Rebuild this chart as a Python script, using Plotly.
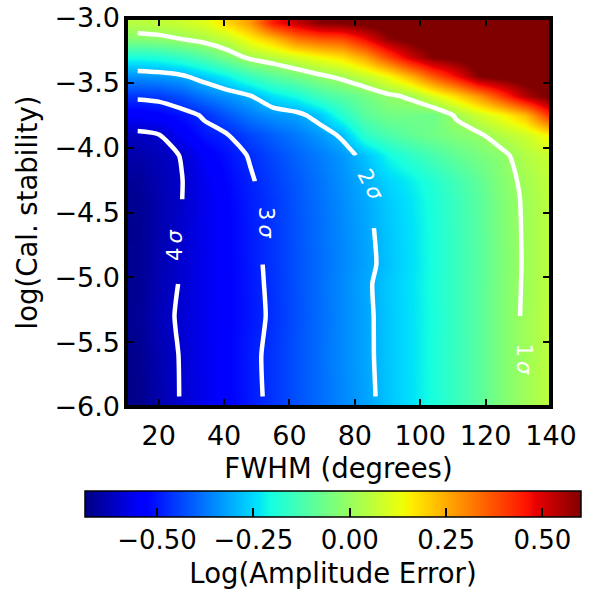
import numpy as np
import plotly.graph_objects as go

# ---------------- data ----------------
fwhm = [13.5, 20, 27, 34, 41, 48, 55, 62, 69, 76, 83, 90, 97, 104, 111, 118, 125, 132, 139]
log_cal = [-5.92, -5.60, -5.30, -5.05, -4.90, -4.62, -4.40, -4.26, -4.06,
           -3.90, -3.75, -3.60, -3.45, -3.30, -3.16, -3.04]

# Log(Amplitude Error), one row per log_cal value (bottom -> top), one column per fwhm value
log_amp_err = [
    [-0.676, -0.636, -0.598, -0.564, -0.530, -0.496, -0.461, -0.425, -0.390, -0.355, -0.322, -0.278, -0.242, -0.198, -0.150, -0.100, -0.039, 0.009, 0.056],
    [-0.672, -0.634, -0.597, -0.563, -0.528, -0.493, -0.460, -0.424, -0.389, -0.353, -0.318, -0.276, -0.241, -0.197, -0.150, -0.100, -0.039, 0.009, 0.056],
    [-0.665, -0.622, -0.593, -0.562, -0.530, -0.500, -0.466, -0.428, -0.390, -0.354, -0.318, -0.275, -0.241, -0.198, -0.151, -0.100, -0.038, 0.010, 0.057],
    [-0.668, -0.630, -0.597, -0.563, -0.531, -0.498, -0.463, -0.426, -0.389, -0.352, -0.315, -0.273, -0.240, -0.197, -0.150, -0.101, -0.040, 0.008, 0.055],
    [-0.668, -0.632, -0.598, -0.563, -0.530, -0.496, -0.461, -0.425, -0.390, -0.356, -0.322, -0.281, -0.243, -0.199, -0.151, -0.102, -0.041, 0.007, 0.055],
    [-0.669, -0.634, -0.600, -0.565, -0.529, -0.494, -0.460, -0.423, -0.388, -0.353, -0.318, -0.276, -0.241, -0.197, -0.150, -0.101, -0.040, 0.008, 0.055],
    [-0.668, -0.635, -0.603, -0.565, -0.527, -0.490, -0.457, -0.420, -0.385, -0.349, -0.313, -0.270, -0.236, -0.193, -0.147, -0.098, -0.038, 0.010, 0.056],
    [-0.660, -0.630, -0.604, -0.562, -0.520, -0.484, -0.450, -0.415, -0.380, -0.345, -0.305, -0.258, -0.224, -0.182, -0.136, -0.089, -0.030, 0.015, 0.062],
    [-0.640, -0.622, -0.5995, -0.545, -0.505, -0.472, -0.435, -0.400, -0.370, -0.335, -0.280, -0.210, -0.165, -0.125, -0.085, -0.050, -0.020, 0.040, 0.075],
    [-0.615, -0.603, -0.550, -0.500, -0.479, -0.440, -0.405, -0.375, -0.335, -0.290, -0.170, -0.120, -0.085, -0.060, -0.035, -0.010, 0.044, 0.080, 0.150],
    [-0.545, -0.533, -0.505, -0.468, -0.416, -0.371, -0.340, -0.322, -0.275, -0.180, -0.098, -0.060, -0.060, -0.067, 0.010, 0.083, 0.140, 0.225, 0.410],
    [-0.461, -0.453, -0.422, -0.374, -0.339, -0.303, -0.241, -0.204, -0.142, -0.100, -0.060, -0.015, 0.015, 0.100, 0.183, 0.280, 0.407, 0.540, 0.620],
    [-0.341, -0.333, -0.312, -0.268, -0.216, -0.150, -0.100, -0.060, -0.017, 0.020, 0.070, 0.138, 0.244, 0.364, 0.470, 0.600, 0.630, 0.640, 0.650],
    [-0.197, -0.187, -0.156, -0.108, -0.045, 0.020, 0.053, 0.096, 0.140, 0.177, 0.260, 0.390, 0.515, 0.600, 0.620, 0.640, 0.650, 0.650, 0.650],
    [-0.030, -0.020, 0.002, 0.030, 0.070, 0.150, 0.220, 0.320, 0.360, 0.380, 0.470, 0.580, 0.620, 0.640, 0.650, 0.650, 0.650, 0.650, 0.650],
    [0.050, 0.060, 0.080, 0.110, 0.190, 0.270, 0.450, 0.520, 0.590, 0.600, 0.620, 0.640, 0.650, 0.650, 0.650, 0.650, 0.650, 0.650, 0.650],
]

# significance contours (level of Log(Amplitude Error) for n sigma)
sigma_labels = ["1", "2", "3", "4"]
sigma_levels = [0.0, -0.301, -0.477, -0.602]

color_min, color_max = -0.687, 0.60
cbar_ticks = [-0.50, -0.25, 0.00, 0.25, 0.50]
x_ticks = [20, 40, 60, 80, 100, 120, 140]
y_ticks = [-6.0, -5.5, -5.0, -4.5, -4.0, -3.5, -3.0]

# ---------------- style ----------------
# matplotlib "jet" colormap
jet_r = [(0, 0), (0.35, 0), (0.66, 1), (0.89, 1), (1, 0.5)]
jet_g = [(0, 0), (0.125, 0), (0.375, 1), (0.64, 1), (0.91, 0), (1, 0)]
jet_b = [(0, 0.5), (0.11, 1), (0.34, 1), (0.65, 0), (1, 0)]
stops = sorted(set([p for p, _ in jet_r + jet_g + jet_b]))


def chan(seg, t):
    return float(np.interp(t, [p for p, _ in seg], [v for _, v in seg]))


jet = [[t, "rgb(%d,%d,%d)" % (round(255 * chan(jet_r, t)), round(255 * chan(jet_g, t)),
                            round(255 * chan(jet_b, t)))] for t in stops]

# pieces of each contour that are drawn (gaps left for the inline labels)
line_pieces = {
    "1": [(-5.30, -3.04)],
    "2": [(-4.06, -3.04), (-5.92, -4.62)],
    "3": [(-4.26, -3.04), (-5.92, -4.90)],
    "4": [(-4.40, -3.04), (-5.92, -5.05)],
}
label_pos = {"1": (131.6, -5.63, 90), "2": (84.7, -4.29, 62), "3": (52.8, -4.58, 90), "4": (25.0, -4.75, -90)}

FONT = "DejaVu Sans"
TICK_SIZE = 27
TITLE_SIZE = 27.5
Z = np.array(log_amp_err)
Y = np.array(log_cal)

fig = go.Figure()
fig.add_trace(go.Heatmap(
    x=fwhm, y=log_cal, z=log_amp_err, zsmooth="best",
    colorscale=jet, zmin=color_min, zmax=color_max, hoverinfo="skip",
    colorbar=dict(
        orientation="h", lenmode="pixels", len=496, thicknessmode="pixels", thickness=26,
        x=(85 - 126) / 425, xanchor="left", y=(407.5 - 492) / 390, yanchor="top",
        xpad=0, ypad=0, outlinewidth=1.5, outlinecolor="black",
        ticks="inside", ticklen=9, tickwidth=1.5, tickcolor="black",
        tickvals=cbar_ticks, tickformat=".2f",
        tickfont=dict(size=TICK_SIZE - 1, family=FONT, color="black"),
        title=dict(text="Log(Amplitude Error)", side="bottom",
                   font=dict(size=TITLE_SIZE, family=FONT, color="black")),
    ),
))

for lab, lev in zip(sigma_labels, sigma_levels):
    for (ylo, yhi) in line_pieces[lab]:
        sel = (Y >= ylo - 1e-9) & (Y <= yhi + 1e-9)
        fig.add_trace(go.Contour(
            x=fwhm, y=Y[sel].tolist(), z=Z[sel].tolist(),
            autocontour=False, contours=dict(start=lev, end=lev + 1e-6, size=1, coloring="none"),
            line=dict(color="white", width=4.5, smoothing=0.6),
            showscale=False, hoverinfo="skip",
        ))
    lx, ly, ang = label_pos[lab]
    fig.add_annotation(x=lx, y=ly, text=lab + "\u2009<i>σ</i>", textangle=ang, showarrow=False,
                       font=dict(size=21, family=FONT, color="white"))

fig.add_shape(type="rect", xref="paper", yref="paper", x0=0, x1=1, y0=0, y1=1,
              line=dict(color="black", width=4), layer="above")

axis_common = dict(ticks="inside", ticklen=8, tickwidth=1.5, tickcolor="black", mirror="ticks",
                   showline=False, showgrid=False, zeroline=False, automargin=False,
                   tickfont=dict(size=TICK_SIZE, family=FONT, color="black"))
fig.update_xaxes(range=[10, 140], tickvals=x_ticks, ticklabelstandoff=10,
                 title=dict(text="FWHM (degrees)", font=dict(size=TITLE_SIZE, family=FONT, color="black"),
                            standoff=8),
                 **axis_common)
fig.update_yaxes(range=[-6, -3], tickvals=y_ticks, tickformat=".1f", ticklabelstandoff=5,
                 title=dict(text="log(Cal. stability)", font=dict(size=TITLE_SIZE, family=FONT, color="black"),
                            standoff=8),
                 **axis_common)

fig.update_layout(width=592, height=590,
                  margin=dict(l=126, r=41, t=17.5, b=182.5, autoexpand=False),
                  plot_bgcolor="white", paper_bgcolor="white", showlegend=False,
                  font=dict(family=FONT, color="black"))

fig.write_html("out.html")
